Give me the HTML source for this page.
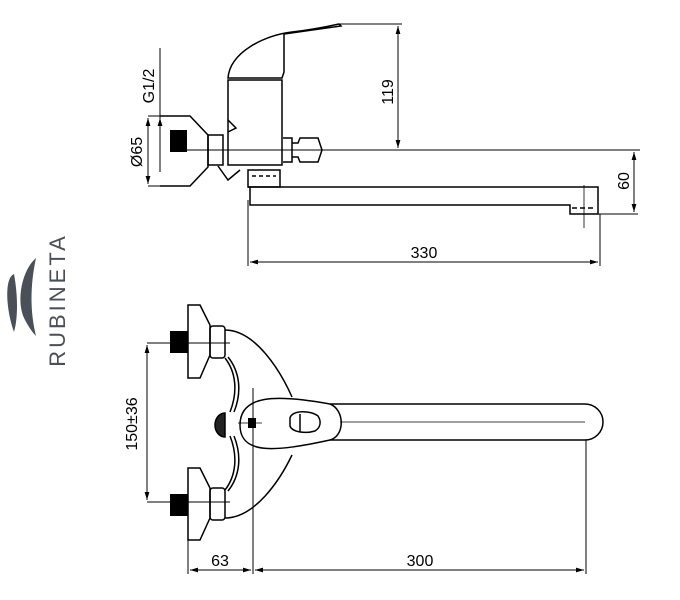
<!DOCTYPE html>
<html><head><meta charset="utf-8"><style>
html,body{margin:0;padding:0;background:#fff;width:680px;height:600px;overflow:hidden}
svg{display:block}
text{font-family:"Liberation Sans",sans-serif;font-size:16px;fill:#000}
</style></head><body>
<svg width="680" height="600" viewBox="0 0 680 600" xmlns="http://www.w3.org/2000/svg">
<defs>
<marker id="a" viewBox="0 0 10 10" refX="10" refY="5" markerWidth="8" markerHeight="8" orient="auto-start-reverse"><path d="M0,2 L10,5 L0,8 z" fill="#000"/></marker>
</defs>
<g fill="none" stroke="#000" stroke-width="1.5">
<!-- TOP VIEW -->
<line x1="340" y1="24" x2="402" y2="24" stroke-width="1"/>
<line x1="398" y1="26" x2="398" y2="148" stroke-width="1" marker-start="url(#a)" marker-end="url(#a)"/>
<line x1="185" y1="150" x2="640" y2="150" stroke-width="1"/>
<line x1="634" y1="152" x2="634" y2="212" stroke-width="1" marker-start="url(#a)" marker-end="url(#a)"/>
<line x1="598" y1="214" x2="638" y2="214" stroke-width="1"/>
<line x1="248" y1="200" x2="248" y2="266" stroke-width="1"/>
<line x1="600" y1="214" x2="600" y2="266" stroke-width="1"/>
<line x1="250" y1="262" x2="598" y2="262" stroke-width="1" marker-start="url(#a)" marker-end="url(#a)"/>
<line x1="160" y1="48" x2="160" y2="172" stroke-width="1"/>
<line x1="148" y1="116" x2="190" y2="116" stroke-width="1"/>
<line x1="148" y1="186" x2="190" y2="186" stroke-width="1"/>
<line x1="148" y1="118" x2="148" y2="184" stroke-width="1" marker-start="url(#a)" marker-end="url(#a)"/>
<line x1="160" y1="118" x2="160" y2="130" stroke-width="1" marker-start="url(#a)"/>
<!-- flange -->
<path d="M160,116 H190 L208,135 V167 L190,186 H160"/>
<rect x="170" y="130" width="17" height="22" fill="#000" stroke="none"/>
<rect x="208" y="135" width="15" height="30"/>
<path d="M218,166 L228,180 L240,170"/>
<!-- body -->
<path d="M228,165 V80 H282 V165 Z"/>
<path d="M228,120 L236,128 L228,132"/>
<path d="M228,78 C230,52 265,35 292,32 C310,30 330,26 339,24 L341,26 L284,34 V72 L282,78 Z"/>
<path d="M283,138 H292 V162 H283"/>
<path d="M292,143 H298 L300,138 H318 L322,150 L318,162 H300 L298,157 H292"/>
<path d="M248,170 H280 V187 H248 Z"/>
<line x1="252" y1="176" x2="276" y2="176" stroke-dasharray="4,3"/>
<!-- spout -->
<path d="M248,187 H598 V214 H570 V205 H250 V187"/>
<line x1="572" y1="208" x2="596" y2="208" stroke-dasharray="5,3"/>
<line x1="584" y1="185" x2="584" y2="228" stroke-width="0.8"/>
<!-- BOTTOM VIEW -->
<rect x="170" y="331" width="18" height="22" fill="#000" stroke="none"/>
<path d="M188,305 H200 L210,325 V355 L200,378 H188 Z"/>
<rect x="210" y="326" width="15" height="32" rx="3"/>
<rect x="170" y="494" width="18" height="22" fill="#000" stroke="none"/>
<path d="M188,468 H200 L210,488 V518 L200,540 H188 Z"/>
<rect x="210" y="488" width="15" height="32" rx="3"/>
<path d="M225,330 C255,330 280,370 292,397"/>
<path d="M225,518 C255,518 280,480 292,455"/>
<path d="M225,358 C236,372 238,392 230,412 M230,436 C238,456 236,476 225,490"/>
<path d="M228,357 C240,372 242,392 234,412 M234,436 C242,456 240,476 228,491"/>
<path d="M225,413 A10,12 0 0 0 225,437 Z" fill="#222"/>
<path d="M240,425 C240,395 275,394 330,404 H585 A17,17 0 0 1 585,440 H330 C275,452 240,455 240,425 Z"/>
<path d="M330,404 C345,410 345,436 330,440"/>
<line x1="340" y1="422" x2="585" y2="422" stroke-width="0.8"/>
<path d="M290,418 C292,410 310,410 318,416 C322,422 320,428 315,431 C305,434 292,432 290,426 Z"/>
<line x1="300" y1="414" x2="300" y2="432"/>
<rect x="248" y="418" width="8" height="10" fill="#000" stroke="none"/>
<line x1="238" y1="423" x2="262" y2="423" stroke-width="0.8"/>
<!-- dims bottom -->
<line x1="147" y1="343" x2="230" y2="343" stroke-width="1"/>
<line x1="147" y1="502" x2="230" y2="502" stroke-width="1"/>
<line x1="147" y1="345" x2="147" y2="500" stroke-width="1" marker-start="url(#a)" marker-end="url(#a)"/>
<line x1="188" y1="520" x2="188" y2="574" stroke-width="1"/>
<line x1="253" y1="388" x2="253" y2="574" stroke-width="1"/>
<line x1="586" y1="440" x2="586" y2="574" stroke-width="1"/>
<line x1="190" y1="570" x2="251" y2="570" stroke-width="1" marker-start="url(#a)" marker-end="url(#a)"/>
<line x1="255" y1="570" x2="584" y2="570" stroke-width="1" marker-start="url(#a)" marker-end="url(#a)"/>
</g>
<text x="424" y="258" text-anchor="middle">330</text>
<text x="420" y="566" text-anchor="middle">300</text>
<text x="220" y="566" text-anchor="middle">63</text>
<text transform="translate(393,92) rotate(-90)" text-anchor="middle">119</text>
<text transform="translate(629,181) rotate(-90)" text-anchor="middle">60</text>
<text transform="translate(154,86) rotate(-90)" text-anchor="middle">G1/2</text>
<text transform="translate(142,152) rotate(-90)" text-anchor="middle">Ø65</text>
<text transform="translate(137,424) rotate(-90)" text-anchor="middle">150±36</text>
<!-- logo -->
<path d="M14,274 C4,278 6,310 14,332 C18,318 18,296 14,274 Z" fill="#4a5058"/>
<path d="M36,258 C22,270 16,300 24,318 C28,326 32,332 36,336 C30,312 30,286 36,258 Z" fill="#4a5058"/>
<text transform="translate(65,300) rotate(-90)" text-anchor="middle" style="font-size:22px;fill:#4a5058;letter-spacing:3px">RUBINETA</text>
</svg>
</body></html>
